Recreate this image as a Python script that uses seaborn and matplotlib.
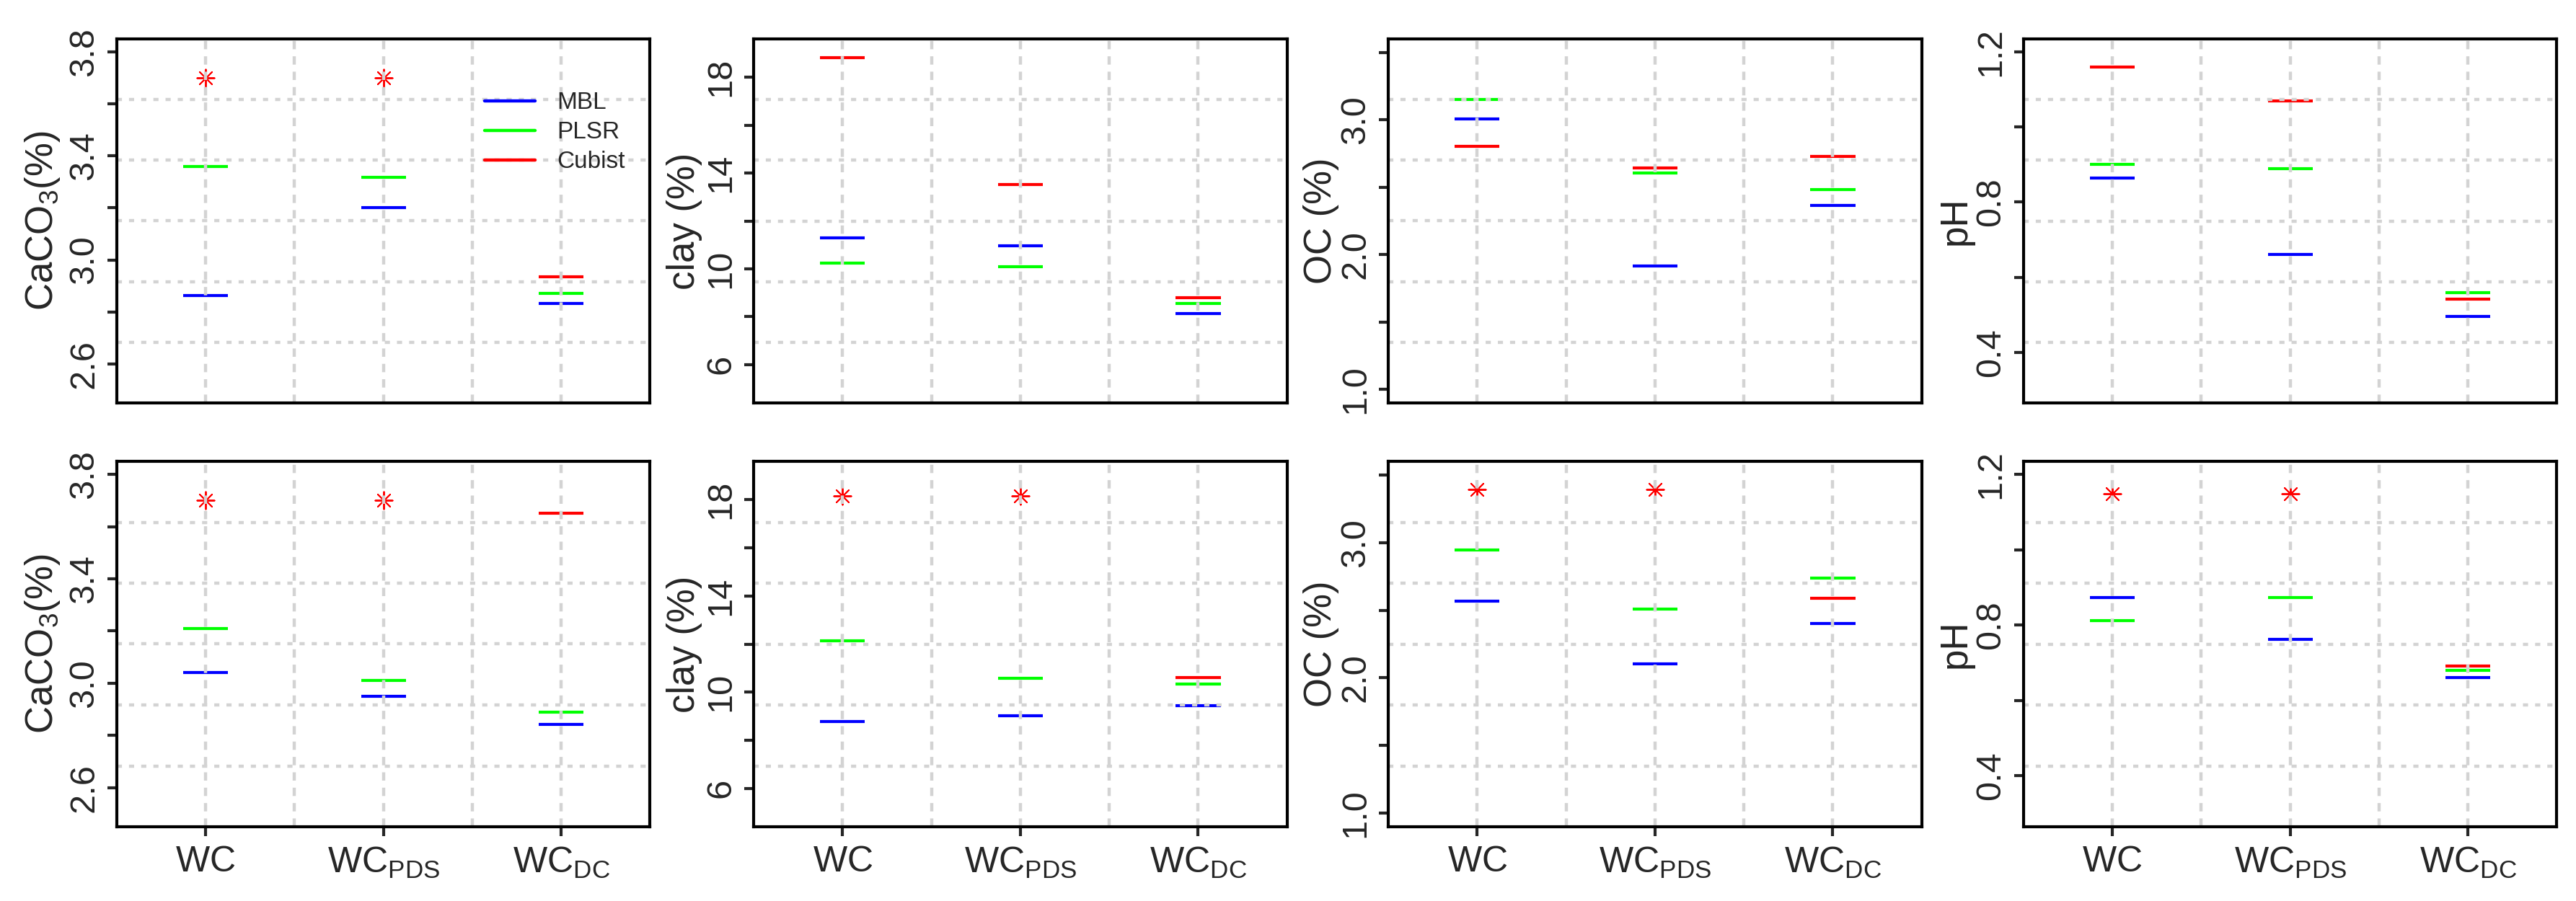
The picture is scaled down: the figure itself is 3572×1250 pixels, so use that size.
import numpy as np
import pandas as pd
import matplotlib
matplotlib.use("Agg")
import matplotlib.pyplot as plt
import seaborn as sns
from matplotlib.lines import Line2D

# ---------------- data ----------------
conditions = ["WC", "WC_PDS", "WC_DC"]
xtick_labels = [r"$\mathregular{WC}$", r"$\mathregular{WC_{PDS}}$", r"$\mathregular{WC_{DC}}$"]
models = ["MBL", "PLSR", "Cubist"]
model_colors = {"MBL": "#0000FF", "PLSR": "#00FF00", "Cubist": "#FF0000"}
nan = np.nan

# top row
caco3_top_mbl = [2.862, 3.201, 2.833]
caco3_top_plsr = [3.360, 3.319, 2.872]
caco3_top_cubist = [nan, nan, 2.935]
caco3_top_star = [3.70, 3.70, nan]

clay_top_mbl = [11.30, 10.96, 8.14]
clay_top_plsr = [10.24, 10.09, 8.55]
clay_top_cubist = [18.82, 13.51, 8.78]
clay_top_star = [nan, nan, nan]

oc_top_mbl = [3.004, 1.918, 2.367]
oc_top_plsr = [3.153, 2.606, 2.482]
oc_top_cubist = [2.806, 2.643, 2.729]
oc_top_star = [nan, nan, nan]

ph_top_mbl = [0.864, 0.661, 0.496]
ph_top_plsr = [0.901, 0.890, 0.559]
ph_top_cubist = [1.160, 1.069, 0.541]
ph_top_star = [nan, nan, nan]

# bottom row
caco3_bot_mbl = [3.041, 2.951, 2.841]
caco3_bot_plsr = [3.209, 3.010, 2.888]
caco3_bot_cubist = [nan, nan, 3.650]
caco3_bot_star = [3.70, 3.70, nan]

clay_bot_mbl = [8.77, 9.01, 9.43]
clay_bot_plsr = [12.12, 10.58, 10.35]
clay_bot_cubist = [nan, nan, 10.60]
clay_bot_star = [18.17, 18.17, nan]

oc_bot_mbl = [2.566, 2.106, 2.403]
oc_bot_plsr = [2.947, 2.509, 2.739]
oc_bot_cubist = [nan, nan, 2.588]
oc_bot_star = [3.392, 3.392, nan]

ph_bot_mbl = [0.873, 0.763, 0.661]
ph_bot_plsr = [0.812, 0.873, 0.681]
ph_bot_cubist = [nan, nan, 0.691]
ph_bot_star = [1.148, 1.148, nan]

# axis settings per property
ylabels = [r"$\mathregular{CaCO_3}$(%)", "clay (%)", "OC (%)", "pH"]
ylims = [(2.45, 3.85), (4.4, 19.6), (0.9, 3.6), (0.265, 1.235)]
yticks = [[2.6, 2.8, 3.0, 3.2, 3.4, 3.6, 3.8],
          [6, 8, 10, 12, 14, 16, 18],
          [1.0, 1.5, 2.0, 2.5, 3.0, 3.5],
          [0.4, 0.6, 0.8, 1.0, 1.2]]
ytick_labels = [["2.6", "", "3.0", "", "3.4", "", "3.8"],
                ["6", "", "10", "", "14", "", "18"],
                ["1.0", "", "2.0", "", "3.0", ""],
                ["0.4", "", "0.8", "", "1.2"]]
ylabel_x = [-0.120, -0.111, -0.107, -0.108]

top_row = [
    (caco3_top_mbl, caco3_top_plsr, caco3_top_cubist, caco3_top_star),
    (clay_top_mbl, clay_top_plsr, clay_top_cubist, clay_top_star),
    (oc_top_mbl, oc_top_plsr, oc_top_cubist, oc_top_star),
    (ph_top_mbl, ph_top_plsr, ph_top_cubist, ph_top_star),
]
bot_row = [
    (caco3_bot_mbl, caco3_bot_plsr, caco3_bot_cubist, caco3_bot_star),
    (clay_bot_mbl, clay_bot_plsr, clay_bot_cubist, clay_bot_star),
    (oc_bot_mbl, oc_bot_plsr, oc_bot_cubist, oc_bot_star),
    (ph_bot_mbl, ph_bot_plsr, ph_bot_cubist, ph_bot_star),
]

# ---------------- style ----------------
sns.set_style("white")
plt.rcParams["font.family"] = ["Liberation Sans", "DejaVu Sans"]
plt.rcParams["mathtext.default"] = "regular"

fig = plt.figure(figsize=(35.73, 12.5), dpi=100)

col_left = [0.0453, 0.2925, 0.5388, 0.7853]
ax_w = 0.2070
row_bottom = [0.5528, 0.0824]
ax_h = [0.404, 0.4056]

grid_color = "#d3d3d3"

for r, row in enumerate([top_row, bot_row]):
    for c, (mbl, plsr, cub, star) in enumerate(row):
        ax = fig.add_axes([col_left[c], row_bottom[r], ax_w, ax_h[r]])
        df = pd.DataFrame({
            "cond": conditions * 3,
            "model": ["MBL"] * 3 + ["PLSR"] * 3 + ["Cubist"] * 3,
            "value": list(mbl) + list(plsr) + list(cub),
        })
        dstar = pd.DataFrame({"cond": conditions, "value": star})
        sns.scatterplot(data=df, x="cond", y="value", hue="model",
                        palette=model_colors, hue_order=models,
                        marker="_", s=2000, linewidth=3.0,
                        legend=False, ax=ax, zorder=2)
        sns.scatterplot(data=dstar.dropna(), x="cond", y="value",
                        color="#FF0000", marker=(8, 2, 0), s=300,
                        linewidth=1.4, legend=False, ax=ax, zorder=2)

        ax.set_xlim(-0.5, 2.5)
        ax.set_ylim(*ylims[c])

        # grid dividing the box into 6 equal parts
        for gx in np.linspace(-0.5, 2.5, 7)[1:-1]:
            ax.axvline(gx, color=grid_color, lw=3.2, ls=(0, (2.6, 2.2)), zorder=3)
        y0, y1 = ylims[c]
        for gy in np.linspace(y0, y1, 7)[1:-1]:
            ax.axhline(gy, color=grid_color, lw=3.2, ls=(0, (1.6, 2.2)), zorder=3)

        ax.set_yticks(yticks[c])
        ax.set_yticklabels(ytick_labels[c])
        ax.tick_params(axis="y", direction="out", length=9.4, width=3,
                       labelsize=35, pad=7, labelrotation=90, left=True)
        for lab in ax.get_yticklabels():
            lab.set_va("center")

        ax.set_xticks([0, 1, 2])
        if r == 1:
            ax.set_xticklabels(xtick_labels)
            ax.tick_params(axis="x", direction="out", length=9.4, width=3,
                           labelsize=36, pad=9, bottom=True)
        else:
            ax.set_xticklabels([])
            ax.tick_params(axis="x", length=0, bottom=False)

        ax.set_xlabel("")
        ax.set_ylabel(ylabels[c], fontsize=38, va="baseline")
        ax.yaxis.set_label_coords(ylabel_x[c], 0.5)

        for sp in ax.spines.values():
            sp.set_visible(True)
            sp.set_color("black")
            sp.set_linewidth(3)
            sp.set_zorder(4)

        if r == 0 and c == 0:
            handles = [Line2D([0], [0], color=model_colors[m], lw=3.2) for m in models]
            ax.legend(handles, models, loc="upper left",
                      bbox_to_anchor=(0.69, 0.855), frameon=False,
                      fontsize=24, handlelength=2.1, handletextpad=0.9,
                      labelspacing=0.3, borderaxespad=0, borderpad=0)

fig.savefig("out.png", dpi=100)
